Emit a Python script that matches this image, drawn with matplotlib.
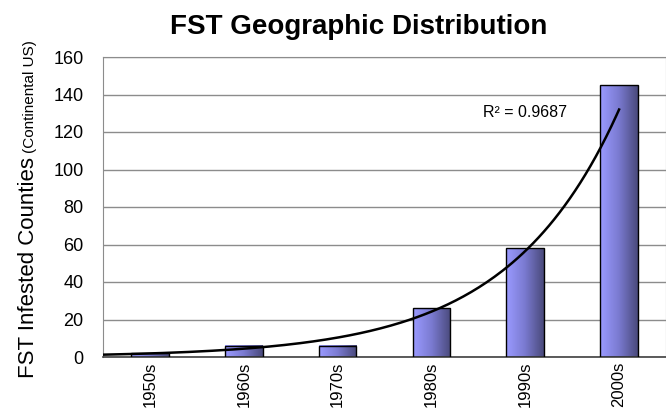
import numpy as np
import matplotlib
matplotlib.use('Agg')
import matplotlib.pyplot as plt
from matplotlib.colors import LinearSegmentedColormap

plt.rcParams['font.family'] = ['Liberation Sans', 'DejaVu Sans']

decades = ['1950s', '1960s', '1970s', '1980s', '1990s', '2000s']
counties = [2, 6, 6, 26, 58, 145]
r2_label = 'R² = 0.9687'

fig = plt.figure(figsize=(6.66, 4.12), dpi=100)
ax = fig.add_axes([103 / 666, 1 - 357 / 412, 563 / 666, 300 / 412])

x = np.arange(len(decades))
width = 0.4
shade = LinearSegmentedColormap.from_list('shade', ['#9a9aff', '#7a7ad0', '#4a4a7c'])
grad = np.linspace(0, 1, 64).reshape(1, -1)
for xi, v in zip(x, counties):
    ax.imshow(grad, cmap=shade, aspect='auto', zorder=2,
              extent=[xi - width / 2, xi + width / 2, 0, v])
ax.bar(x, counties, width=width, facecolor='none', edgecolor='black',
       linewidth=1.0, zorder=3)

# exponential trendline, backward forecast of half a category
t = np.arange(1, len(counties) + 1)
b, ln_a = np.polyfit(t, np.log(counties), 1)
tt = np.linspace(0.5, len(counties), 200)
ax.plot(tt - 1, np.exp(ln_a) * np.exp(b * tt), color='black', linewidth=1.8, zorder=4)
ax.text(3.55, 130.5, r2_label, fontsize=11.5, va='center', ha='left', zorder=5)

ax.set_xlim(-0.5, len(decades) - 0.5)
ax.set_ylim(0, 160)
ax.set_yticks(range(0, 161, 20))
ax.set_xticks(x)
ax.set_xticklabels(decades, rotation=90, fontsize=12)
ax.tick_params(axis='y', length=0, labelsize=13, pad=14)
ax.tick_params(axis='x', length=0, pad=3)
ax.grid(axis='y', color='#8c8c8c', linewidth=1.0, zorder=0)
ax.set_axisbelow(True)
for s in ['top', 'right', 'left']:
    ax.spines[s].set_color('#8c8c8c')
ax.spines['bottom'].set_color('#404040')
ax.spines['bottom'].set_linewidth(1.2)

fig.text(359 / 666, 1 - 34 / 412, 'FST Geographic Distribution', fontsize=20,
         fontweight='bold', ha='center', va='baseline')
fig.text(34 / 666, 1 - 378 / 412, 'FST Infested Counties', fontsize=16,
         rotation=90, rotation_mode='anchor', ha='left', va='baseline')
fig.text(34 / 666, 1 - 153 / 412, '(Continental US)', fontsize=11,
         rotation=90, rotation_mode='anchor', ha='left', va='baseline')

fig.savefig('out.png', dpi=100)
